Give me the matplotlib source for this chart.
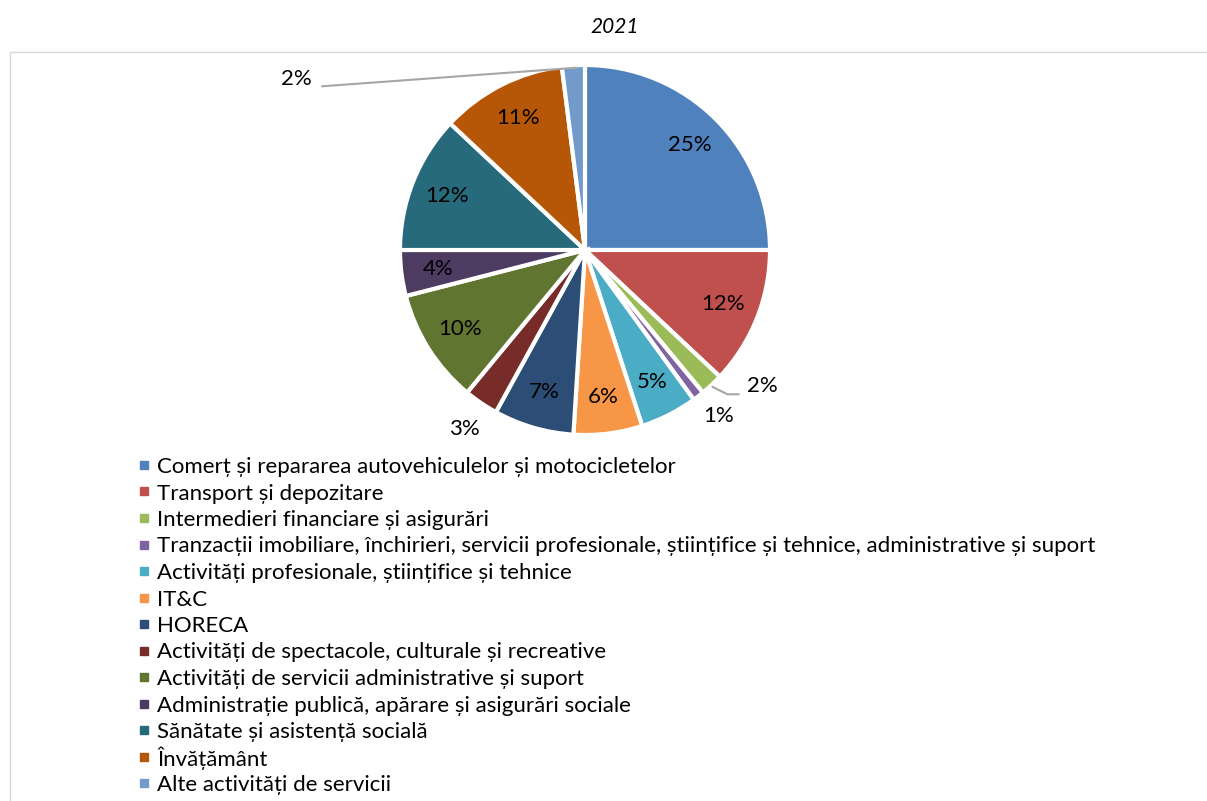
import matplotlib.pyplot as plt
import numpy as np
from matplotlib.patches import Rectangle

plt.rcParams['font.family'] = ['Lato', 'DejaVu Sans']

# Date
categorii = [
    'Comerț și repararea autovehiculelor și motocicletelor',
    'Transport și depozitare',
    'Intermedieri financiare și asigurări',
    'Tranzacții imobiliare, închirieri, servicii profesionale, științifice și tehnice, administrative și suport',
    'Activități profesionale, științifice și tehnice',
    'IT&C',
    'HORECA',
    'Activități de spectacole, culturale și recreative',
    'Activități de servicii administrative și suport',
    'Administrație publică, apărare și asigurări sociale',
    'Sănătate și asistență socială',
    'Învățământ',
    'Alte activități de servicii',
]
valori = [25, 12, 2, 1, 5, 6, 7, 3, 10, 4, 12, 11, 2]
culori = ['#4F81BD', '#C0504D', '#9BBB59', '#8064A2', '#4BACC6', '#F79646',
          '#2C4D75', '#772C2A', '#5F7530', '#4D3B62', '#276A7C', '#B65708',
          '#729ACA']

W, H = 1207, 801
R = 185.0          # raza in pixeli
cx, cy = 585, 250  # centrul in pixeli

fig = plt.figure(figsize=(W / 100, H / 100), dpi=100)
ax = fig.add_axes([0, 0, 1, 1])

wedges, _ = ax.pie(valori, colors=culori, startangle=90, counterclock=False,
                   radius=1, wedgeprops=dict(edgecolor='white', linewidth=3))

ax.set_xlim(-cx / R, (W - cx) / R)
ax.set_ylim(-(H - cy) / R, cy / R)
ax.set_aspect('equal')
ax.axis('off')

# Etichete procentuale
total = sum(valori)
cum = np.cumsum([0] + valori)
exterior = {2: (0.96, -0.735), 3: (0.72, -0.90), 7: (-0.65, -0.97),
            12: (-1.56, 0.924)}
for i, v in enumerate(valori):
    mid = 90 - (cum[i] + v / 2) / total * 360
    if i in exterior:
        x, y = exterior[i]
    else:
        x = 0.8 * np.cos(np.radians(mid))
        y = 0.8 * np.sin(np.radians(mid))
    ax.text(x, y, f'{v}%', ha='center', va='center', fontsize=16)

# linii de legatura
ax.plot([0.69, 0.77, 0.83], [-0.74, -0.78, -0.78], color='#A6A6A6', lw=1.5)
ax.plot([-1.42, -0.05], [0.885, 0.985], color='#A6A6A6', lw=1.5)

fig.text(615 / W, 1 - 27 / H, '2021', ha='center', va='center',
         fontsize=15, style='italic')

fig.patches.append(Rectangle((10 / W, -0.01), 1.0, 1 - 52 / H + 0.01,
                             transform=fig.transFigure, fill=False,
                             edgecolor='#D9D9D9', lw=1))

# Legenda (randuri la pas fix)
for i, (nume, c) in enumerate(zip(categorii, culori)):
    yp = 465 + i * 26.5
    fig.patches.append(Rectangle((140 / W, 1 - (yp + 4) / H), 8 / W, 8 / H,
                                 transform=fig.transFigure, color=c))
    fig.text(157 / W, 1 - yp / H, nume, ha='left', va='center_baseline',
             fontsize=16)

fig.savefig('out.png', dpi=100)
